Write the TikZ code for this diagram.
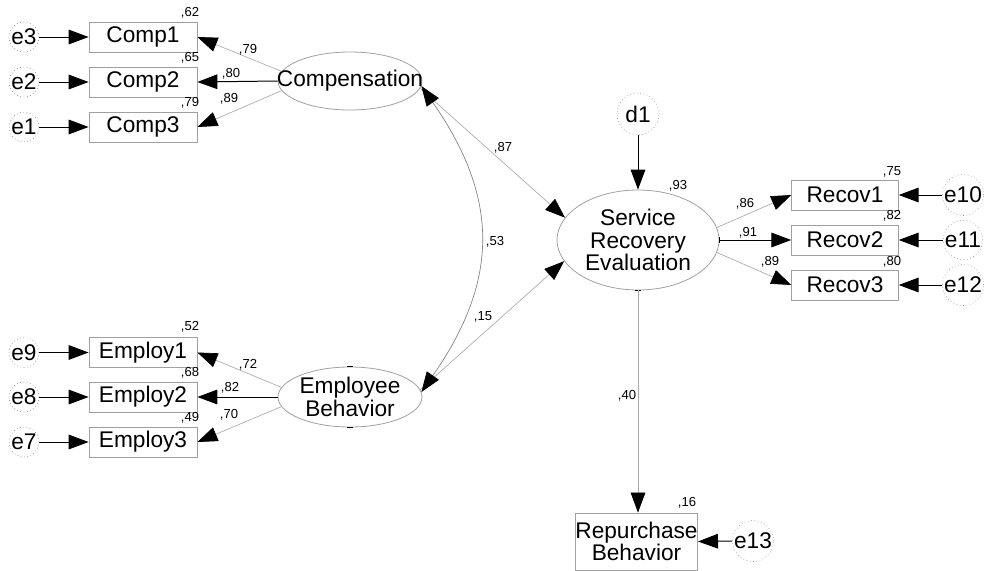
\documentclass[tikz,border=0pt]{standalone}
\usepackage{fontspec}
\setmainfont{Liberation Sans}
\usetikzlibrary{arrows.meta,shapes.geometric,calc}
\definecolor{boxgray}{HTML}{A0A0A0}
\definecolor{pathgray}{HTML}{ABABAB}
\definecolor{circgray}{HTML}{8C8C8C}
\begin{document}
\begin{tikzpicture}[
  x=0.75pt, y=-0.75pt,
  big/.style={font=\fontsize{17}{17}\selectfont},
  obs/.style={big, draw=boxgray, line width=0.6pt, inner sep=0pt,
    minimum width=81pt, minimum height=22.5pt},
  lat/.style={ellipse, draw=boxgray, line width=0.6pt, inner sep=0pt},
  lattext/.style={big, align=center, inner sep=0pt},
  err/.style={big, circle, draw=circgray, dotted, line width=0.5pt, inner sep=0pt,
    minimum size=21.75pt},
  coef/.style={font=\fontsize{9.8}{10}\selectfont, inner sep=0pt},
  tip/.style={Triangle[length=15pt,width=11pt,color=black,fill=black]},
  head/.style={-{Triangle[length=15pt,width=11pt,color=black,fill=black]}},
  fixed/.style={head, draw=black, line width=0.75pt},
  free/.style={head, draw=pathgray, line width=0.5pt},
  cov/.style={{Triangle[length=15pt,width=11pt,color=black,fill=black]}-{Triangle[length=15pt,width=11pt,color=black,fill=black]},
    draw=gray, line width=0.5pt},
  tick/.style={draw=black, line width=0.75pt}
]
\useasboundingbox (0,0) rectangle (986,571);

% latent variables: outline and caption as separate nodes
\node[lat, minimum width=108pt, minimum height=43.5pt] (comp) at (350,81) {};
\node[lattext] (compt) at (comp.center) {Compensation};
\node[lat, minimum width=108pt, minimum height=45pt] (emp) at (350,397) {};
\node[lattext] (empt) at (emp.center) {Employee\\Behavior};
\node[lat, minimum width=121.5pt, minimum height=75pt] (sre) at (638,240) {};
\node[lattext] (sret) at (sre.center) {Service\\Recovery\\Evaluation};

% indicators
\node[obs] (c1) at (143,37) {Comp1};
\node[obs] (c2) at (143,82) {Comp2};
\node[obs] (c3) at (143,127) {Comp3};
\node[obs] (m1) at (143,352.5) {Employ1};
\node[obs] (m2) at (143,397) {Employ2};
\node[obs] (m3) at (143,442) {Employ3};
\node[obs, minimum width=80pt] (r1) at (845,195) {Recov1};
\node[obs, minimum width=80pt] (r2) at (845,240) {Recov2};
\node[obs, minimum width=80pt] (r3) at (845,285) {Recov3};
\node[obs, minimum width=90.75pt, minimum height=42.75pt, align=center] (rep) at (636.5,541.5) {Repurchase\\Behavior};

% error terms
\node[err] (e3) at (24,37) {e3};
\node[err] (e2) at (24,82) {e2};
\node[err] (e1) at (24,127) {e1};
\node[err] (e9) at (24,352.5) {e9};
\node[err] (e8) at (24,397) {e8};
\node[err] (e7) at (24,442) {e7};
\node[err] (e10) at (963,195) {e10};
\node[err] (e11) at (963,240) {e11};
\node[err] (e12) at (963,285) {e12};
\node[err, minimum size=21pt] (e13) at (753,541) {e13};
\node[err, minimum size=31.5pt] (d1) at (638,114) {d1};

% small marks on the latent ellipses
\draw[tick] ($(emp.north)+(-3,0)$) -- ($(emp.north)+(3,0)$);
\draw[tick] ($(emp.south)+(-3,0)$) -- ($(emp.south)+(3,0)$);
\draw[tick] ($(sre.east)+(0,-3)$) -- ($(sre.east)+(0,3)$);
\draw[tick] ($(sre.south)+(-3,0)$) -- ($(sre.south)+(3,0)$);

% error paths
\foreach \e/\v in {e3/c1, e2/c2, e1/c3, e9/m1, e8/m2, e7/m3}
  \draw[fixed] (\e.east) -- (\v.west);
\foreach \e/\v in {e10/r1, e11/r2, e12/r3, e13/rep}
  \draw[fixed] (\e.west) -- (\v.east);
\draw[fixed] (d1.south) -- (sre.north);

% loadings
\draw[free] (comp.172) -- (c1.east);
\draw[fixed] (comp.west) -- (c2.east);
\draw[free] (comp.188) -- (c3.east);
\draw[free] (emp.172) -- (m1.east);
\draw[fixed] (emp.west) -- (m2.east);
\draw[free] (emp.188) -- (m3.east);
\draw[free] (sre.9) -- (r1.west);
\draw[fixed] (sre.east) -- (r2.west);
\draw[free] (sre.-9) -- (r3.west);

% structural paths
\draw[free] (comp.-6) -- (sre.163);
\draw[free] (emp.6) -- (sre.196);
\draw[free] (sre.south) -- (sre.south |- rep.north);
\draw[cov] (comp.-4) .. controls ($(comp.-4)+(78,112)$) and ($(emp.4)+(78,-112)$) .. (emp.4);

% estimates
\node[coef] (q1) at (190,13) {,62};
\node[coef] (q2) at (190,58) {,65};
\node[coef] (q3) at (190,103) {,79};
\node[coef] (p1) at (248,50) {,79};
\node[coef] (p2) at (231,74) {,80};
\node[coef] (p3) at (229,99) {,89};
\node[coef] (q4) at (190,327) {,52};
\node[coef] (q5) at (190,373) {,68};
\node[coef] (q6) at (190,418) {,49};
\node[coef] (p4) at (248,365) {,72};
\node[coef] (p5) at (230,388) {,82};
\node[coef] (p6) at (229,415) {,70};
\node[coef] (q7) at (678,186) {,93};
\node[coef] (q8) at (892,172) {,75};
\node[coef] (q9) at (892,216) {,82};
\node[coef] (q10) at (892,262) {,80};
\node[coef] (p7) at (745,204) {,86};
\node[coef] (p8) at (748,233) {,91};
\node[coef] (p9) at (770,262) {,89};
\node[coef] (q11) at (687,503) {,16};
\node[coef] (p10) at (627,396) {,40};
\node[coef] (p11) at (503,148) {,87};
\node[coef] (p12) at (495,242) {,53};
\node[coef] (p13) at (483,317) {,15};
\end{tikzpicture}
\end{document}
